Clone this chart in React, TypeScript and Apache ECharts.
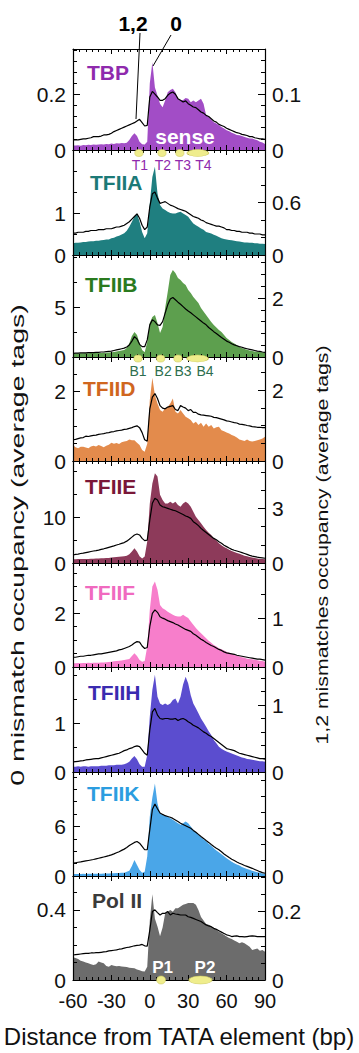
import React, { useEffect, useRef } from 'react';
import * as echarts from 'echarts';

// Distance from TATA element (bp)
const X = [-60,-58,-56,-54,-52,-50,-48,-46,-44,-42,-40,-38,-36,-34,-32,-30,-28,-26,-24,-22,-20,-18,-16,-14,-12,-10,-8,-6,-4,-2,0,2,4,6,8,10,12,14,16,18,20,22,24,26,28,30,32,34,36,38,40,42,44,46,48,50,52,54,56,58,60,62,64,66,68,70,72,74,76,78,80,82,84,86,88,90];

// 0 mismatch occupancy (filled, left axis) and 1,2 mismatches occupancy (line, right axis)
const tbpFill = [0.016,0.016,0.017,0.015,0.018,0.017,0.019,0.018,0.02,0.019, 0.02,0.021,0.02,0.022,0.021,0.023,0.022,0.024,0.023,0.025, 0.024,0.026,0.036,0.05,0.06,0.05,0.03,0.021,0.02,0.03, 0.24,0.315,0.225,0.196,0.166,0.154,0.178,0.208,0.216,0.22, 0.208,0.184,0.178,0.18,0.187,0.184,0.172,0.178,0.172,0.178, 0.184,0.166,0.125,0.119,0.109,0.1,0.095,0.089,0.083,0.077, 0.071,0.067,0.062,0.058,0.054,0.053,0.05,0.047,0.044,0.041, 0.041,0.038,0.035,0.03,0.027,0.022];
const tbpLine = [0.018,0.018,0.018,0.019,0.02,0.02,0.021,0.022,0.024,0.024, 0.024,0.025,0.027,0.027,0.028,0.03,0.033,0.035,0.037,0.039, 0.041,0.043,0.045,0.047,0.049,0.052,0.055,0.049,0.043,0.044, 0.095,0.105,0.1,0.095,0.089,0.089,0.092,0.098,0.102,0.104, 0.1,0.092,0.089,0.086,0.088,0.083,0.08,0.077,0.076,0.072, 0.068,0.066,0.062,0.06,0.056,0.052,0.05,0.046,0.044,0.042, 0.039,0.037,0.035,0.033,0.031,0.03,0.028,0.027,0.026,0.024, 0.024,0.022,0.021,0.02,0.02,0.019];

const tfiiaFill = [0.28,0.29,0.29,0.3,0.31,0.31,0.32,0.33,0.33,0.34, 0.34,0.35,0.36,0.37,0.37,0.4,0.41,0.44,0.46,0.49, 0.52,0.58,0.67,0.79,0.91,0.99,0.79,0.55,0.4,0.52, 1.23,1.86,2.1,1.47,1.19,1.11,1.07,1.03,1.0,0.99, 0.99,1.01,1.03,0.99,0.95,0.91,0.83,0.75,0.71,0.67, 0.63,0.6,0.55,0.53,0.51,0.48,0.46,0.43,0.4,0.38, 0.37,0.36,0.35,0.34,0.33,0.32,0.31,0.3,0.3,0.29, 0.29,0.28,0.28,0.27,0.27,0.26];
const tfiiaLine = [0.25,0.25,0.26,0.26,0.26,0.27,0.27,0.28,0.28,0.28, 0.29,0.29,0.29,0.3,0.3,0.3,0.31,0.32,0.32,0.33, 0.34,0.36,0.38,0.41,0.44,0.47,0.42,0.34,0.29,0.32, 0.55,0.7,0.72,0.65,0.59,0.6,0.61,0.59,0.57,0.56, 0.545,0.53,0.52,0.51,0.5,0.48,0.46,0.44,0.43,0.42, 0.4,0.39,0.37,0.36,0.35,0.34,0.33,0.33,0.32,0.31, 0.29,0.29,0.28,0.28,0.27,0.27,0.26,0.26,0.26,0.25, 0.25,0.24,0.24,0.24,0.23,0.23];

const tfiibFill = [0.37,0.36,0.38,0.37,0.38,0.39,0.38,0.4,0.39,0.4, 0.4,0.41,0.42,0.43,0.44,0.47,0.5,0.55,0.6,0.65, 0.7,0.9,1.37,2.1,2.5,2.2,1.4,0.7,0.47,1.5, 3.4,4.0,4.2,3.4,2.4,3.0,4.9,6.5,8.2,8.7, 8.4,7.9,7.7,7.4,7.2,6.7,6.4,6.0,5.7,5.4, 4.9,4.55,4.2,3.85,3.5,3.2,2.95,2.7,2.5,2.2, 1.9,1.7,1.5,1.35,1.2,1.0,0.9,0.8,0.72,0.65, 0.6,0.56,0.53,0.5,0.48,0.47];
const tfiibLine = [0.125,0.13,0.13,0.14,0.14,0.14,0.15,0.15,0.15,0.16, 0.16,0.17,0.17,0.18,0.19,0.2,0.22,0.24,0.26,0.28, 0.3,0.34,0.41,0.54,0.69,0.61,0.43,0.35,0.35,0.58, 1.09,1.26,1.2,1.09,1.07,1.2,1.49,1.77,1.97,2.02, 1.94,1.86,1.79,1.71,1.63,1.56,1.5,1.43,1.36,1.29, 1.22,1.15,1.09,1.0,0.93,0.86,0.8,0.73,0.66,0.6, 0.54,0.5,0.45,0.41,0.38,0.35,0.33,0.3,0.28,0.26, 0.24,0.22,0.2,0.19,0.17,0.16];

const tfiidFill = [0.46,0.4,0.37,0.41,0.41,0.39,0.37,0.42,0.44,0.42, 0.46,0.43,0.4,0.44,0.47,0.53,0.5,0.52,0.49,0.54, 0.56,0.58,0.62,0.6,0.6,0.53,0.46,0.32,0.27,0.5, 1.76,2.4,1.9,1.66,1.47,1.42,1.52,1.56,1.66,1.8, 1.42,1.37,1.47,1.37,1.28,1.23,1.18,1.08,1.13,1.04, 1.1,0.99,1.08,0.99,1.04,0.94,0.97,0.99,0.89,0.86, 0.82,0.79,0.75,0.72,0.68,0.62,0.6,0.58,0.62,0.58, 0.56,0.58,0.6,0.62,0.65,0.7];
const tfiidLine = [0.6,0.61,0.63,0.65,0.66,0.7,0.69,0.71,0.72,0.73, 0.75,0.76,0.77,0.79,0.8,0.82,0.83,0.85,0.86,0.87, 0.89,0.9,0.92,0.94,0.97,0.99,0.94,0.8,0.6,0.56, 1.47,1.8,1.9,1.76,1.56,1.49,1.47,1.52,1.54,1.56, 1.45,1.42,1.56,1.52,1.49,1.42,1.45,1.37,1.37,1.32, 1.3,1.29,1.28,1.27,1.26,1.23,1.22,1.2,1.18,1.16, 1.13,1.12,1.1,1.08,1.07,1.04,1.03,1.02,1.0,0.99, 0.97,0.96,0.95,0.95,0.94,0.94];

const tfiieFill = [0.8,0.8,0.85,0.85,0.9,0.9,0.9,0.95,0.95,1.0, 1.0,1.05,1.05,1.1,1.1,1.2,1.25,1.3,1.35,1.4, 1.5,1.6,1.9,2.5,3.2,2.5,1.5,1.0,1.4,4.7, 13,17.4,19.6,18.9,14.9,13.8,13.0,13.0,13.4,13.0, 13.4,12.7,12.3,13.0,13.4,13.0,12.3,11.2,10.1,9.4, 8.7,7.9,7.2,6.6,6.1,5.4,4.9,4.3,3.9,3.5, 3.2,2.9,2.6,2.4,2.2,2.0,1.8,1.6,1.5,1.3, 1.2,1.1,1.0,0.9,0.85,0.8];
const tfiieLine = [0.44,0.47,0.49,0.52,0.54,0.57,0.6,0.63,0.66,0.68, 0.71,0.75,0.78,0.82,0.86,0.9,0.94,0.99,1.03,1.08, 1.12,1.2,1.3,1.42,1.54,1.59,1.54,1.35,1.23,1.26, 2.36,3.28,3.55,3.46,3.18,3.09,3.05,3.0,2.95,2.9, 2.87,2.8,2.73,2.66,2.58,2.53,2.45,2.27,2.17,2.05, 1.9,1.78,1.67,1.56,1.45,1.35,1.28,1.17,1.08,0.98, 0.9,0.82,0.75,0.7,0.66,0.62,0.57,0.52,0.47,0.42, 0.38,0.35,0.32,0.3,0.28,0.26];

const tfiifFill = [0.14,0.14,0.15,0.14,0.15,0.15,0.16,0.15,0.16,0.16, 0.16,0.17,0.17,0.18,0.19,0.2,0.21,0.22,0.23,0.24, 0.26,0.28,0.3,0.41,0.51,0.41,0.26,0.2,0.22,0.76, 2.13,3.0,3.18,2.87,2.31,2.19,2.13,2.06,2.0,1.94, 1.9,1.88,1.88,1.94,1.88,1.82,1.69,1.57,1.45,1.35, 1.26,1.16,1.07,0.98,0.9,0.82,0.76,0.7,0.66,0.61, 0.57,0.53,0.49,0.46,0.42,0.39,0.36,0.34,0.31,0.3, 0.29,0.27,0.25,0.23,0.22,0.2];
const tfiifLine = [0.2,0.2,0.21,0.22,0.22,0.23,0.24,0.24,0.25,0.26, 0.27,0.27,0.28,0.29,0.3,0.31,0.32,0.33,0.35,0.36, 0.38,0.4,0.42,0.45,0.49,0.52,0.51,0.43,0.38,0.4, 0.83,1.1,1.17,1.12,1.03,1.0,0.98,0.95,0.93,0.91, 0.88,0.86,0.83,0.8,0.77,0.75,0.73,0.68,0.65,0.61, 0.57,0.54,0.5,0.47,0.44,0.42,0.39,0.36,0.34,0.31, 0.29,0.28,0.27,0.26,0.24,0.23,0.22,0.21,0.2,0.19, 0.18,0.17,0.16,0.16,0.15,0.14];

const tfiihFill = [0.11,0.11,0.12,0.11,0.12,0.12,0.11,0.12,0.12,0.12, 0.12,0.13,0.13,0.13,0.14,0.14,0.14,0.15,0.15,0.15, 0.16,0.18,0.21,0.28,0.33,0.26,0.16,0.11,0.11,0.35, 1.14,1.69,2.0,1.55,1.41,1.38,1.41,1.38,1.41,1.48, 1.51,1.41,1.55,1.8,1.96,1.82,1.58,1.41,1.31,1.21, 1.1,1.02,0.93,0.84,0.76,0.66,0.59,0.52,0.48,0.45, 0.42,0.4,0.38,0.36,0.34,0.32,0.3,0.29,0.27,0.26, 0.25,0.24,0.23,0.22,0.22,0.21];
const tfiihLine = [0.15,0.155,0.16,0.165,0.17,0.18,0.185,0.19,0.195,0.2, 0.2,0.21,0.22,0.23,0.24,0.25,0.26,0.27,0.28,0.3, 0.32,0.33,0.35,0.36,0.38,0.39,0.38,0.33,0.28,0.25, 0.63,0.9,0.95,0.85,0.8,0.79,0.8,0.8,0.79,0.79, 0.8,0.77,0.79,0.8,0.78,0.75,0.73,0.7,0.68,0.66, 0.63,0.6,0.58,0.55,0.53,0.5,0.47,0.44,0.41,0.38, 0.35,0.34,0.33,0.32,0.3,0.28,0.27,0.26,0.25,0.24, 0.23,0.22,0.21,0.2,0.2,0.19];

const tfiikFill = [0.24,0.24,0.25,0.24,0.26,0.25,0.26,0.27,0.26,0.27, 0.28,0.28,0.29,0.3,0.3,0.32,0.33,0.35,0.36,0.38, 0.4,0.5,0.65,1.2,1.95,1.34,0.73,0.4,0.5,2.35, 7.2,9.5,11.2,8.8,7.6,7.4,7.3,7.2,7.0,6.8, 6.6,6.4,6.2,6.4,6.6,6.4,6.0,5.6,5.3,5.0, 4.7,4.45,4.2,3.9,3.65,3.36,3.1,2.88,2.63,2.4, 2.15,1.95,1.74,1.55,1.4,1.26,1.1,0.98,0.86,0.75, 0.65,0.55,0.46,0.38,0.3,0.24];
const tfiikLine = [0.8,0.83,0.86,0.88,0.91,0.94,0.97,1.0,1.03,1.07, 1.11,1.15,1.19,1.23,1.27,1.32,1.38,1.45,1.52,1.6, 1.68,1.78,1.9,2.0,2.1,2.16,2.05,1.85,1.64,1.64, 2.9,4.15,4.5,4.2,3.94,3.85,3.77,3.72,3.67,3.6, 3.5,3.4,3.3,3.22,3.14,3.06,2.98,2.85,2.73,2.6, 2.47,2.35,2.22,2.1,1.97,1.85,1.74,1.64,1.51,1.38, 1.26,1.15,1.05,0.97,0.88,0.8,0.73,0.66,0.6,0.54, 0.48,0.41,0.34,0.27,0.21,0.17];

const pol2Fill = [0.13,0.125,0.12,0.11,0.105,0.1,0.095,0.09,0.086,0.09, 0.105,0.1,0.095,0.08,0.076,0.086,0.082,0.078,0.08,0.077, 0.076,0.074,0.07,0.068,0.067,0.06,0.055,0.05,0.048,0.076, 0.34,0.49,0.35,0.305,0.25,0.3,0.38,0.39,0.4,0.39, 0.41,0.41,0.42,0.43,0.434,0.44,0.44,0.44,0.43,0.4, 0.36,0.34,0.32,0.315,0.305,0.295,0.285,0.276,0.267,0.258, 0.248,0.24,0.234,0.226,0.219,0.21,0.215,0.21,0.2,0.19, 0.171,0.176,0.18,0.167,0.171,0.162];
const pol2Line = [0.073,0.074,0.075,0.076,0.077,0.078,0.078,0.079,0.079,0.08, 0.08,0.081,0.082,0.083,0.085,0.086,0.087,0.088,0.09,0.091, 0.093,0.095,0.096,0.098,0.1,0.101,0.102,0.104,0.1,0.099, 0.146,0.2,0.205,0.197,0.19,0.195,0.195,0.2,0.19,0.195, 0.193,0.192,0.19,0.19,0.19,0.185,0.183,0.18,0.177,0.174, 0.171,0.166,0.161,0.158,0.156,0.151,0.148,0.144,0.14,0.136, 0.132,0.13,0.127,0.128,0.129,0.127,0.127,0.126,0.127,0.128, 0.129,0.128,0.127,0.127,0.127,0.127];

const NAMES = ['TBP', 'TFIIA', 'TFIIB', 'TFIID', 'TFIIE', 'TFIIF', 'TFIIH', 'TFIIK', 'Pol II'];
const FILL_DATA = [tbpFill, tfiiaFill, tfiibFill, tfiidFill, tfiieFill, tfiifFill, tfiihFill, tfiikFill, pol2Fill];
const LINE_DATA = [tbpLine, tfiiaLine, tfiibLine, tfiidLine, tfiieLine, tfiifLine, tfiihLine, tfiikLine, pol2Line];

// axis scales
const LEFT_MAX = [0.363, 2.5, 10.2, 3.0, 22.3, 3.87, 2.16, 12.6, 0.594];
const LEFT_TICKS = [[0, 0.2], [0, 1], [0, 5], [0, 2], [0, 10], [0, 2], [0, 1], [0, 6], [0, 0.4]];
const LEFT_MINOR = [0.04, 0.5, 2.5, 0.5, 5, 0.5, 0.5, 1.5, 0.1];
const RIGHT_MAX = [0.181, 1.2, 3.46, 2.93, 5.6, 2.13, 1.57, 6.5, 0.304];
const RIGHT_TICKS = [[0, 0.1], [0, 0.6], [0, 2], [0, 2], [0, 3], [0, 1], [0, 1], [0, 3], [0, 0.2]];
const RIGHT_MINOR = [0.02, 0.2, 0.4, 0.5, 1, 0.5, 0.2, 1, 0.05];
const X_MIN = -60;
const X_MAX = 90;
const X_STEP = 30;

// core promoter element annotations (bp)
const tbpElements = ['T1', 'T2', 'T3', 'T4'];
const tbpElemCenter = [-8.5, 9.5, 23.5, 37.5];
const tbpElemWidth = [6.5, 6.5, 6.5, 17];
const tfiibElements = ['B1', 'B2', 'B3', 'B4'];
const tfiibElemCenter = [-9.2, 8.5, 22, 37.3];
const tfiibElemWidth = [6.5, 6.5, 6.5, 17];
const polElements = ['P1', 'P2'];
const polElemCenter = [8.8, 39.6];
const polElemWidth = [7, 18];

// ---------- styling / layout ----------
const FONT = '"Liberation Sans", Arial, Helvetica, sans-serif';
const FILL_COLORS = ['#a24dc6', '#1f7f80', '#5d9f4e', '#e38b4c', '#8d3a5a', '#f77ecb', '#5b4dcf', '#4aa6e8', '#6c6c6c'];
const LABEL_COLORS = ['#8f2aad', '#1c7a77', '#2a7a1e', '#d0661e', '#7a1738', '#f06abf', '#3a2bb0', '#2b9de0', '#3a3a3a'];
const TOPS = [49, 150, 255, 357, 461, 563, 667, 772, 876];
const BOTTOMS = [150, 255, 357, 461, 563, 667, 772, 876, 980];
const LABEL_POS = [[87, 72.5], [90, 182.5], [85, 284.5], [83, 388.5], [85, 486.5], [85, 592.5], [88, 692.5], [87, 793], [92, 900]];
const GRID_LEFT = 73;
const GRID_WIDTH = 192;
const PX_PER_BP = GRID_WIDTH / (X_MAX - X_MIN);
const ELLIPSE = 'path://M0,50A50,50,0,1,1,100,50A50,50,0,1,1,0,50Z';

function stepValues(step: number, max: number) {
  const out: number[] = [];
  for (let k = 0; k * step <= max + 1e-9; k++) out.push(+(k * step).toFixed(6));
  return out;
}

function buildOption() {
  const grid: any[] = [];
  const xAxis: any[] = [];
  const yAxis: any[] = [];
  const series: any[] = [];
  const tickStyle = { color: '#000', width: 1 };
  const lineStyle = { color: '#000', width: 1.2 };

  for (let i = 0; i < 9; i++) {
    grid.push({ left: GRID_LEFT, width: GRID_WIDTH, top: TOPS[i], height: BOTTOMS[i] - TOPS[i], containLabel: false });
    const isLast = i === 8;
    // bottom x axis
    xAxis.push({
      gridIndex: i, type: 'value', min: X_MIN, max: X_MAX, interval: X_STEP, position: 'bottom', z: 5,
      axisLine: { show: true, onZero: false, lineStyle },
      axisTick: { show: true, inside: true, length: 5, lineStyle: tickStyle },
      minorTick: { show: true, splitNumber: 6, length: 3, lineStyle: tickStyle },
      axisLabel: { show: isLast, fontSize: 20, fontFamily: FONT, color: '#111', margin: 11 },
      splitLine: { show: false },
    });
    // top x axis
    xAxis.push({
      gridIndex: i, type: 'value', min: X_MIN, max: X_MAX, interval: X_STEP, position: 'top', z: 5,
      axisLine: { show: true, onZero: false, lineStyle },
      axisTick: { show: true, inside: true, length: 5, lineStyle: tickStyle },
      minorTick: { show: true, splitNumber: 6, length: 3, lineStyle: tickStyle },
      axisLabel: { show: false },
      splitLine: { show: false },
    });
    const lbl = { fontSize: 21, fontFamily: FONT, color: '#111', margin: 7 };
    // left main
    yAxis.push({
      gridIndex: i, type: 'value', min: 0, max: LEFT_MAX[i], position: 'left', z: 5,
      axisLine: { show: true, onZero: false, lineStyle },
      axisTick: { show: true, inside: true, length: 7, lineStyle: tickStyle, customValues: LEFT_TICKS[i] },
      axisLabel: { ...lbl, customValues: LEFT_TICKS[i] },
      splitLine: { show: false },
    });
    // right main
    yAxis.push({
      gridIndex: i, type: 'value', min: 0, max: RIGHT_MAX[i], position: 'right', z: 5,
      axisLine: { show: true, onZero: false, lineStyle },
      axisTick: { show: true, inside: true, length: 7, lineStyle: tickStyle, customValues: RIGHT_TICKS[i] },
      axisLabel: { ...lbl, customValues: RIGHT_TICKS[i] },
      splitLine: { show: false },
    });
    // left minor
    yAxis.push({
      gridIndex: i, type: 'value', min: 0, max: LEFT_MAX[i], position: 'left', z: 5,
      axisLine: { show: false, onZero: false },
      axisTick: { show: true, inside: true, length: 4, lineStyle: tickStyle, customValues: stepValues(LEFT_MINOR[i], LEFT_MAX[i]) },
      axisLabel: { show: false },
      splitLine: { show: false },
    });
    // right minor
    yAxis.push({
      gridIndex: i, type: 'value', min: 0, max: RIGHT_MAX[i], position: 'right', z: 5,
      axisLine: { show: false, onZero: false },
      axisTick: { show: true, inside: true, length: 4, lineStyle: tickStyle, customValues: stepValues(RIGHT_MINOR[i], RIGHT_MAX[i]) },
      axisLabel: { show: false },
      splitLine: { show: false },
    });

    const fill = FILL_DATA[i];
    const line = LINE_DATA[i];
    series.push({
      type: 'line', xAxisIndex: 2 * i, yAxisIndex: 4 * i, silent: true,
      data: X.map((x, k) => [x, fill[k]]),
      symbol: 'none', showSymbol: false,
      lineStyle: { width: 0 },
      areaStyle: { color: FILL_COLORS[i], opacity: 1 },
      z: 2,
    });
    series.push({
      type: 'line', xAxisIndex: 2 * i, yAxisIndex: 4 * i + 1, silent: true,
      data: X.map((x, k) => [x, line[k]]),
      symbol: 'none', showSymbol: false,
      lineStyle: { color: '#000', width: 1.2 },
      z: 3,
    });
  }

  const elemSeries = (panel: number, names: string[], centers: number[], widths: number[], h: number, dy: number,
    labelPos: string, dist: number, offsets: number[], labelStyle: any) => ({
    type: 'scatter', xAxisIndex: 2 * panel, yAxisIndex: 4 * panel, silent: true, clip: false, z: 10,
    symbol: ELLIPSE,
    itemStyle: { color: '#efed8c', borderColor: '#cfcc62', borderWidth: 0.6, opacity: 1 },
    data: names.map((n, k) => ({
      name: n,
      value: [centers[k], 0],
      symbolSize: [widths[k] * PX_PER_BP, h],
      symbolOffset: [0, dy],
      label: { show: true, formatter: n, position: labelPos, distance: dist, offset: [offsets[k], 0], ...labelStyle },
    })),
  });

  series.push(elemSeries(0, tbpElements, tbpElemCenter, tbpElemWidth, 7, 3, 'bottom', 1, [1, 1, 3, 5.5],
    { color: '#8f2aad', fontSize: 14, fontFamily: FONT }));
  series.push(elemSeries(2, tfiibElements, tfiibElemCenter, tfiibElemWidth, 7, 1.5, 'bottom', 2, [0, 2.5, 5, 7.5],
    { color: '#2d6e4e', fontSize: 14, fontFamily: FONT }));
  series.push(elemSeries(8, polElements, polElemCenter, polElemWidth, 8, 0, 'top', 0, [1.5, 4.5],
    { color: '#ffffff', fontSize: 17, fontWeight: 'bold', fontFamily: FONT }));

  const txt = (text: string, x: number, y: number, font: string, fill: string, align = 'left', extra: any = {}) => ({
    type: 'text', x, y, z: 100, ...extra,
    style: { text, font, fill, align, verticalAlign: 'middle', textAlign: align, textVerticalAlign: 'middle' },
  });

  const graphic: any[] = [];
  NAMES.forEach((n, i) => {
    graphic.push(txt(n, LABEL_POS[i][0], LABEL_POS[i][1], `bold 21px ${FONT}`, LABEL_COLORS[i]));
  });
  graphic.push(txt('sense', 185, 136, `bold 21px ${FONT}`, '#ffffff', 'center'));
  graphic.push(txt('1,2', 133, 23, `bold 21px ${FONT}`, '#000', 'center'));
  graphic.push(txt('0', 176, 23, `bold 21px ${FONT}`, '#000', 'center'));
  graphic.push({ type: 'line', z: 100, shape: { x1: 140, y1: 33, x2: 136, y2: 119 }, style: { stroke: '#000', lineWidth: 1 } });
  graphic.push({ type: 'line', z: 100, shape: { x1: 171, y1: 35, x2: 153, y2: 66 }, style: { stroke: '#000', lineWidth: 1 } });
  graphic.push(txt('0 mismatch occupancy (average tags)', 17, 545, `19px ${FONT}`, '#111', 'center',
    { rotation: Math.PI / 2, scaleX: 1.5 }));
  graphic.push(txt('1,2 mismatches occupancy (average tags)', 322, 545, `17px ${FONT}`, '#111', 'center',
    { rotation: Math.PI / 2, scaleX: 1.25 }));
  graphic.push(txt('Distance from TATA element (bp)', 179, 1036, `24px ${FONT}`, '#111', 'center'));

  return { animation: false, backgroundColor: '#ffffff', grid, xAxis, yAxis, series, graphic };
}

export default function App() {
  const ref = useRef<HTMLDivElement>(null);
  useEffect(() => {
    if (!ref.current) return;
    const chart = echarts.init(ref.current, undefined, { renderer: 'svg' });
    chart.setOption(buildOption() as any);
    return () => chart.dispose();
  }, []);
  return <div ref={ref} style={{ position: 'fixed', left: 0, top: 0, width: 359, height: 1053, background: '#fff' }} />;
}
